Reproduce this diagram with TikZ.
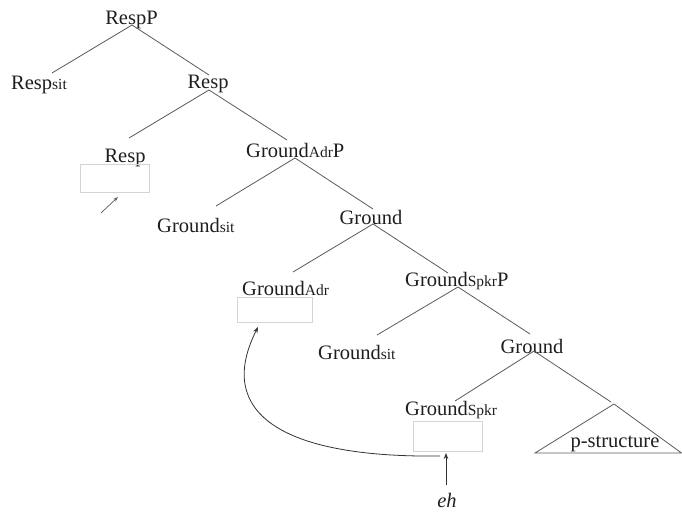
\documentclass[tikz,border=0pt]{standalone}
\usepackage{fontspec}
\setmainfont{Liberation Serif}
\usetikzlibrary{arrows.meta}
\definecolor{txt}{HTML}{1E1E1E}
\definecolor{ln}{HTML}{5A5A5A}
\definecolor{bx}{HTML}{D4D4D4}
\newcommand{\sbs}[1]{{\fontsize{15.5}{16}\selectfont #1}}
\begin{document}
\begin{tikzpicture}[x=1pt,y=-1pt,
  lbl/.style={inner sep=0pt,anchor=base,text=txt,font=\fontsize{20.5}{24}\selectfont},
  lblw/.style={lbl,anchor=base west},
  branch/.style={draw=ln,line width=0.8pt},
  gapbox/.style={draw=bx,line width=0.6pt},
  mv/.style={draw=black!80,line width=0.8pt,-{Stealth[length=6pt,width=4.5pt]}}]
\useasboundingbox (0,0) rectangle (682,512);
% labels
\node[lbl] (respP) at (131.5,24) {RespP};
\node[lblw] (respsit) at (11,89) {Resp\sbs{sit}};
\node[lbl] (resp1) at (208,88) {Resp};
\node[lbl] (resp2) at (125,162) {Resp};
\node[lblw] (gadrP) at (246,157) {Ground\sbs{Adr}P};
\node[lblw] (gsit1) at (157,232) {Ground\sbs{sit}};
\node[lbl] (ground1) at (371,224) {Ground};
\node[lblw] (gadr) at (242,295) {Ground\sbs{Adr}};
\node[lblw] (gspkrP) at (405,286) {Ground\sbs{Spkr}P};
\node[lblw] (gsit2) at (318,359) {Ground\sbs{sit}};
\node[lbl] (ground2) at (532,353) {Ground};
\node[lblw] (gspkr) at (405,415) {Ground\sbs{Spkr}};
\node[lbl] (pstr) at (615,447) {p-structure};
\node[lbl] (eh) at (447,507) {\itshape eh};
% empty boxes
\node[gapbox,minimum width=69pt,minimum height=28pt,inner sep=0pt] (box1) at (114.5,178) {};
\node[gapbox,minimum width=75pt,minimum height=25pt,inner sep=0pt] (box2) at (274.5,309.5) {};
\node[gapbox,minimum width=69pt,minimum height=30pt,inner sep=0pt] (box3) at (447.5,436) {};
% branch points
\coordinate (c0) at (132,25);
\coordinate (c0l) at (52,73);
\coordinate (c0r) at (209,75);
\coordinate (c1) at (209,90);
\coordinate (c1l) at (129,138);
\coordinate (c1r) at (287,140);
\coordinate (c2) at (295,158);
\coordinate (c2l) at (216,206);
\coordinate (c2r) at (373,209);
\coordinate (c3) at (373,224);
\coordinate (c3l) at (293,272);
\coordinate (c3r) at (448,273);
\coordinate (c4) at (458,287);
\coordinate (c4l) at (377,335);
\coordinate (c4r) at (530,334);
\coordinate (c5) at (534,351);
\coordinate (c5l) at (455,401);
\coordinate (c5r) at (611,402);
\draw[branch] (c0l) -- (c0) -- (c0r);
\draw[branch] (c1l) -- (c1) -- (c1r);
\draw[branch] (c2l) -- (c2) -- (c2r);
\draw[branch] (c3l) -- (c3) -- (c3r);
\draw[branch] (c4l) -- (c4) -- (c4r);
\draw[branch] (c5l) -- (c5) -- (c5r);
% triangle
\coordinate (tA) at (614,404);
\coordinate (tL) at (535,453);
\coordinate (tR) at (681.5,453);
\draw[branch,line join=miter] (tA) -- (tL) -- (tR) -- cycle;
% movement arrows
\coordinate (s1) at (101,213);
\coordinate (e1) at (118,197);
\draw[draw=ln,line width=0.7pt,-{Stealth[length=5pt,width=3.5pt]}] (s1) -- (e1);
\coordinate (ehtop) at (446,485);
\coordinate (ehtip) at (446,453);
\draw[mv] (ehtop) -- (ehtip);
\coordinate (cs) at (440,456);
\coordinate (ce) at (258,327);
\draw[mv] (cs) .. controls (280,458) and (215,412) .. (ce);
\end{tikzpicture}
\end{document}
